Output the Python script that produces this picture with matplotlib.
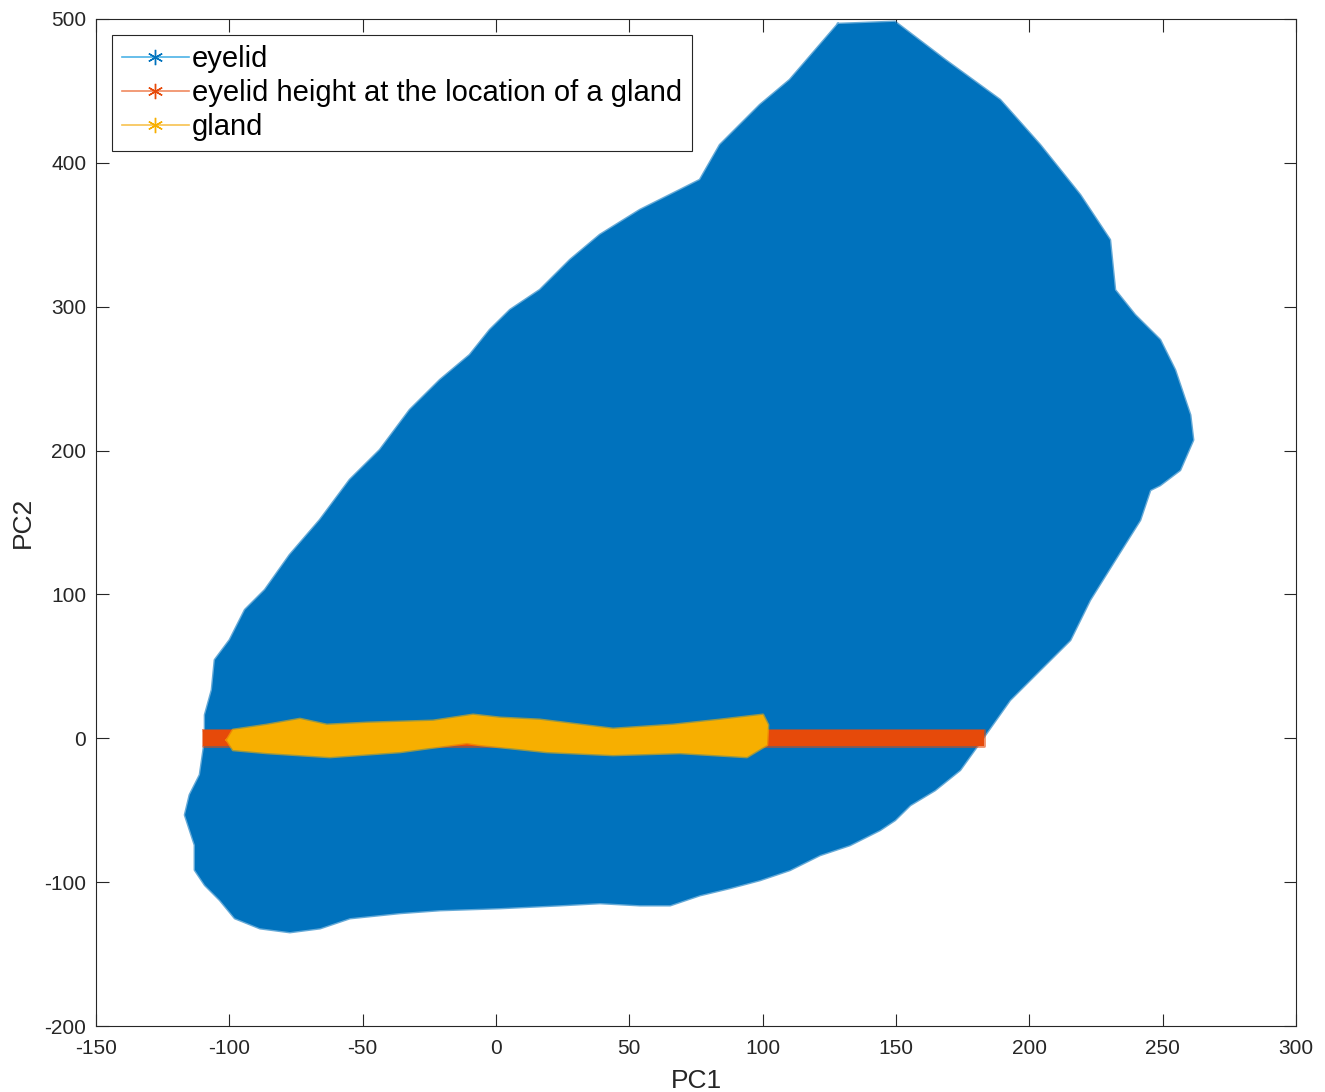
import matplotlib
matplotlib.use("Agg")
import matplotlib.pyplot as plt
from matplotlib.lines import Line2D

plt.rcParams['font.family'] = ['Liberation Sans', 'DejaVu Sans']
plt.rcParams['axes.unicode_minus'] = False

# Outline of the eyelid point cloud (PC1, PC2)
eyelid_pc1 = [128.3, 149.6, 168.4, 189.0, 204.0, 219.0, 230.2, 232.1, 239.6, 249.0,
              254.6, 260.3, 261.4, 256.5, 249.0, 245.3, 241.5, 232.1, 222.7, 215.3,
              204.0, 192.7, 183.4, 174.0, 164.6, 155.3, 149.6, 144.0, 132.7, 121.5,
              110.2, 99.0, 87.8, 76.5, 65.3, 54.0, 39.0, 24.0, 1.5, -21.0,
              -36.0, -54.8, -66.0, -77.3, -88.5, -97.9, -103.5, -109.1, -112.9, -112.9,
              -116.6, -114.8, -111.0, -109.1, -109.1, -106.5, -105.4, -99.8, -94.1, -86.6,
              -77.3, -66.0, -54.8, -43.5, -32.3, -21.0, -9.8, -2.3, 5.3, 16.5,
              27.8, 39.0, 54.0, 69.0, 76.5, 84.0, 99.0, 110.2, 121.5]
eyelid_pc2 = [496.5, 498.0, 471.5, 443.7, 412.4, 377.7, 346.4, 311.6, 294.2, 276.9,
              256.0, 224.7, 207.4, 186.5, 176.0, 172.6, 151.7, 124.0, 96.1, 68.3,
              47.5, 26.6, 2.3, -22.0, -36.0, -46.4, -56.8, -63.7, -74.2, -81.1,
              -91.5, -98.5, -104.0, -109.0, -116.0, -116.0, -114.5, -116.0, -118.0, -119.4,
              -121.4, -125.0, -132.0, -134.7, -132.0, -125.0, -112.4, -102.0, -91.5, -74.2,
              -53.3, -39.4, -25.5, -1.2, 16.2, 33.6, 54.4, 68.3, 89.2, 103.1,
              127.4, 151.7, 179.6, 200.4, 228.2, 249.0, 266.4, 283.8, 297.7, 311.6,
              332.5, 349.9, 367.2, 381.1, 388.1, 412.4, 440.2, 457.6, 481.9]

# Eyelid height band at the gland location
height_pc1 = [-110.0, 183.0, 183.0, -110.0]
height_pc2 = [5.5, 5.5, -5.5, -5.5]

# Gland outline
gland_pc1 = [-100.9, -98.6, -85.9, -73.5, -63.4, -48.4, -23.6, -8.6, 1.5, 16.5,
             43.9, 66.4, 84.0, 100.1, 102.0, 101.6, 94.1, 69.0, 43.9, 19.1,
             -6.0, -10.9, -36.0, -62.3, -85.9, -98.6]
gland_pc2 = [-1.2, 5.8, 9.3, 13.4, 9.3, 10.7, 12.1, 16.3, 14.2, 12.8,
             6.5, 9.3, 12.8, 16.3, 9.3, -4.6, -13.0, -10.2, -11.6, -9.5,
             -4.6, -3.2, -9.5, -13.0, -10.2, -8.1]

labels = ['eyelid', 'eyelid height at the location of a gland', 'gland']
colors = ['#0072BD', '#E64A0A', '#F7AF00']
legend_colors = ['#4DB3E6', '#F08A60', '#F7C250']
asterisk = (6, 2, 0)

fig = plt.figure(figsize=(13.25, 10.92), dpi=100)
ax = fig.add_axes([96 / 1325, 66 / 1092, 1200 / 1325, 1007 / 1092])

for xs, ys, c in [(eyelid_pc1, eyelid_pc2, colors[0]),
                  (height_pc1, height_pc2, colors[1]),
                  (gland_pc1, gland_pc2, colors[2])]:
    ax.fill(xs, ys, color=c, lw=0, zorder=2)
    ax.plot(list(xs) + [xs[0]], list(ys) + [ys[0]], color=c, lw=2.0,
            alpha=0.6, zorder=2, solid_joinstyle='round')

ax.set_xlim(-150, 300)
ax.set_ylim(-200, 500)
ax.set_xticks(range(-150, 301, 50))
ax.set_yticks(range(-200, 501, 100))
ax.tick_params(direction='in', length=9, width=0.8, top=True, right=True,
               labelsize=15, colors='#262626')
ax.tick_params(axis='x', pad=9)
ax.tick_params(axis='y', pad=7)
for s in ax.spines.values():
    s.set_color('#262626')
    s.set_linewidth(0.8)
ax.set_xlabel('PC1', fontsize=19, color='#262626', labelpad=8)
ax.set_ylabel('PC2', fontsize=19, color='#262626', labelpad=7)

handles = [Line2D([0], [0], color=lc, lw=1.2, marker=asterisk, markersize=11,
                  markeredgecolor=c, markerfacecolor=c, markeredgewidth=1.0)
           for c, lc in zip(colors, legend_colors)]
leg = ax.legend(handles, labels, loc='upper left', bbox_to_anchor=(0.013, 0.984),
                fontsize=21, frameon=True, fancybox=False, framealpha=1,
                edgecolor='#262626', handlelength=2.3, handletextpad=0.1,
                borderpad=0.35, labelspacing=0.2, borderaxespad=0)
leg.get_frame().set_linewidth(0.8)

fig.savefig('out.png', dpi=100)
